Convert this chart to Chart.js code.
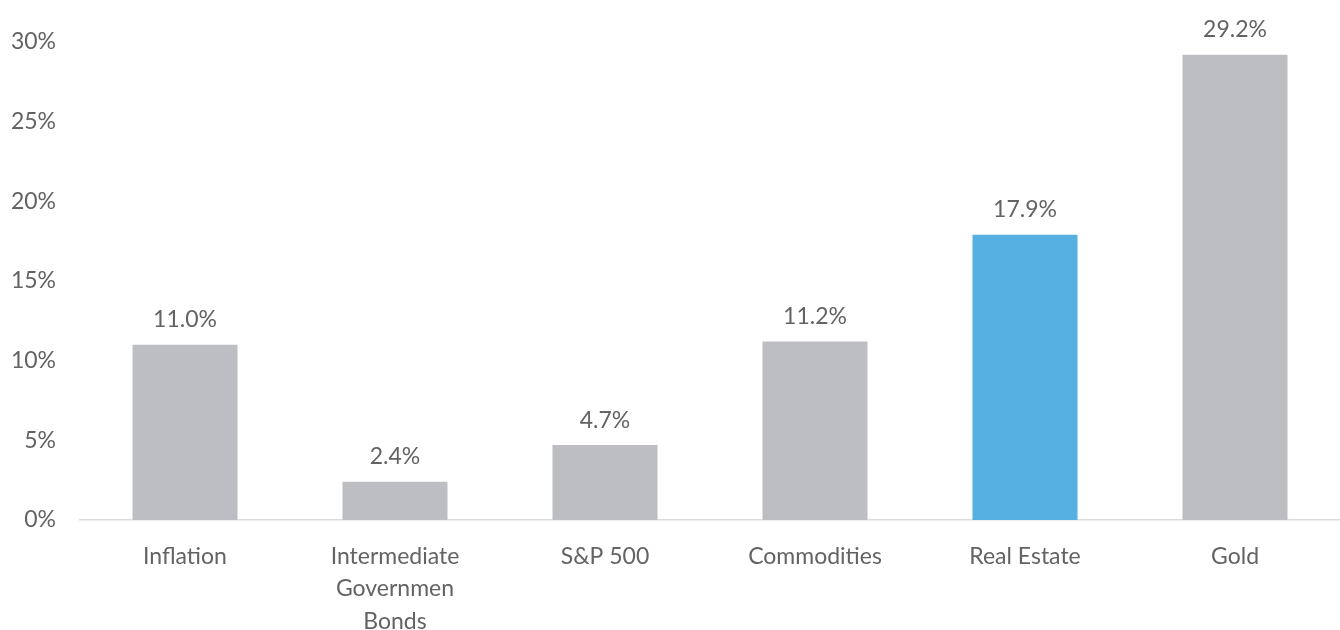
<!DOCTYPE html>
<html>
<head>
<meta charset="utf-8">
<script src="https://cdn.jsdelivr.net/npm/chart.js@4"></script>
<style>
  html, body { margin: 0; padding: 0; background: #fff; }
  #wrap { width: 1340px; height: 630px; }
</style>
</head>
<body>
<div id="wrap"><canvas id="returnsChart" width="1340" height="630"></canvas></div>
<script>
// Asset classes and their returns (%)
const categories = [
  "Inflation",
  ["Intermediate", "Governmen", "Bonds"],
  "S&P 500",
  "Commodities",
  "Real Estate",
  "Gold"
];
const returns = [11.0, 2.4, 4.7, 11.2, 17.9, 29.2];
const highlight = "Real Estate";

const gray = "#bdbec3";
const blue = "#56b0e2";
const textColor = "#636363";
const fontFamily = "Lato, 'Open Sans', sans-serif";
const fontSize = 23;

const barColors = categories.map(c => c === highlight ? blue : gray);

// Draw value labels above each bar
const valueLabels = {
  id: "valueLabels",
  afterDatasetsDraw(chart) {
    const ctx = chart.ctx;
    const meta = chart.getDatasetMeta(0);
    ctx.save();
    ctx.font = fontSize + "px " + fontFamily;
    ctx.fillStyle = textColor;
    ctx.textAlign = "center";
    ctx.textBaseline = "middle";
    meta.data.forEach((bar, i) => {
      ctx.fillText(returns[i].toFixed(1) + "%", bar.x, bar.y - 25);
    });
    ctx.restore();
  }
};

new Chart(document.getElementById("returnsChart").getContext("2d"), {
  type: "bar",
  data: {
    labels: categories,
    datasets: [{
      data: returns,
      backgroundColor: barColors,
      categoryPercentage: 1.0,
      barPercentage: 0.5
    }]
  },
  options: {
    responsive: false,
    animation: false,
    layout: { padding: { top: 42, right: 0, left: 0, bottom: 0 } },
    plugins: {
      legend: { display: false },
      tooltip: { enabled: false }
    },
    scales: {
      x: {
        grid: { display: false, drawTicks: false },
        border: { display: true, color: "#dcdce0", width: 1.5 },
        ticks: {
          color: textColor,
          font: { family: fontFamily, size: fontSize, lineHeight: 1.42 },
          maxRotation: 0,
          autoSkip: false,
          padding: 20
        },
        afterFit(scale) { scale.height = 110; }
      },
      y: {
        min: 0,
        max: 30,
        grid: { display: false, drawTicks: false },
        border: { display: false },
        ticks: {
          stepSize: 5,
          color: textColor,
          font: { family: fontFamily, size: fontSize },
          padding: 24,
          callback: v => v + "%"
        },
        afterFit(scale) { scale.width = 80; }
      }
    }
  },
  plugins: [valueLabels]
});
</script>
</body>
</html>
